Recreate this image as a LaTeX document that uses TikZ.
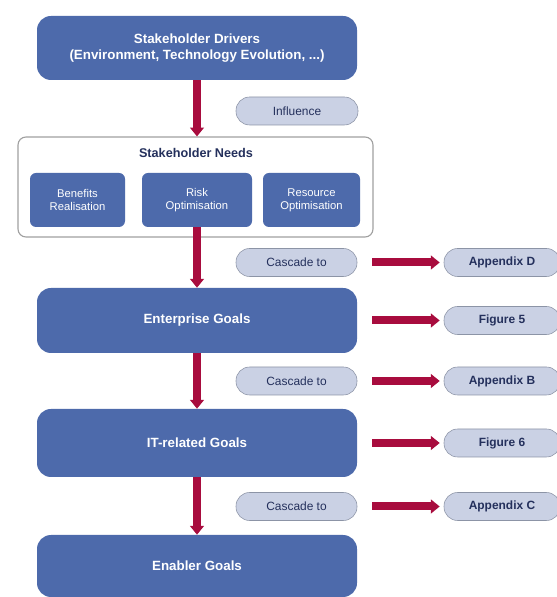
\documentclass[tikz,border=0pt]{standalone}
\usepackage{fontspec}
\setmainfont{Liberation Sans}
\usepackage{tikz}
\usetikzlibrary{arrows.meta}

\begin{document}
\begin{tikzpicture}[
  goalbox/.style={fill=goalblue,rounded corners=0.35cm,text=white,font=\fontsize{9.5}{11}\selectfont\bfseries,align=center,minimum width=8cm},
  subbox/.style={fill=goalblue,rounded corners=0.15cm,text=white,font=\fontsize{8}{9.5}\selectfont,align=center,minimum height=1.35cm},
  pill/.style={draw=pillline,fill=pillfill,rounded corners=0.34cm,text=pilltext,font=\fontsize{8.5}{10}\selectfont,minimum height=0.7cm},
  refpill/.style={pill,font=\fontsize{8.5}{10}\selectfont\bfseries,minimum width=2.9cm},
  cascade/.style={->,line width=0.2cm,draw=cascred,-{Triangle[width=0.34cm,length=0.22cm]}}
]
% Define colours
\definecolor{goalblue}{RGB}{77,106,171}
\definecolor{pillfill}{RGB}{202,209,228}
\definecolor{pillline}{RGB}{140,148,166}
\definecolor{pilltext}{RGB}{36,48,92}
\definecolor{cascred}{RGB}{168,12,62}
\definecolor{needsline}{RGB}{160,160,160}

\useasboundingbox (0,0) rectangle (13.925,14.925);

% Draw goal boxes
\node[goalbox,minimum height=1.6cm] (drivers) at (4.925,13.725) {Stakeholder Drivers\\(Environment, Technology Evolution, ...)};
\node[goalbox,minimum height=1.625cm] (enterprise) at (4.925,6.9125) {Enterprise Goals};
\node[goalbox,minimum height=1.7cm] (itgoals) at (4.925,3.85) {IT-related Goals};
\node[goalbox,minimum height=1.55cm] (enabler) at (4.925,0.775) {Enabler Goals};

% Draw stakeholder needs
\node[draw=needsline,thick,fill=white,rounded corners=0.2cm,minimum width=8.875cm,minimum height=2.5cm] (needs) at (4.8875,10.25) {};
\node[text=pilltext,font=\fontsize{9}{11}\selectfont\bfseries] (needstitle) at (4.9,11.1) {Stakeholder Needs};
\node[subbox,minimum width=2.375cm] (benefits) at (1.9375,9.925) {Benefits\\Realisation};
\node[subbox,minimum width=2.75cm] (risk) at (4.925,9.925) {Risk\\Optimisation};
\node[subbox,minimum width=2.425cm] (resource) at (7.7875,9.925) {Resource\\Optimisation};

% Draw labels
\node[pill,minimum width=3.05cm] (influence) at (7.425,12.15) {Influence};
\node[pill,minimum width=3.025cm] (cascA) at (7.4125,8.3625) {Cascade to};
\node[pill,minimum width=3.025cm] (cascB) at (7.4125,5.4) {Cascade to};
\node[pill,minimum width=3.025cm] (cascC) at (7.4125,2.2625) {Cascade to};

% Add references
\node[refpill] (appD) at (12.55,8.3625) {Appendix D};
\node[refpill] (fig5) at (12.55,6.9125) {Figure 5};
\node[refpill] (appB) at (12.55,5.4) {Appendix B};
\node[refpill] (fig6) at (12.55,3.85) {Figure 6};
\node[refpill] (appC) at (12.55,2.2625) {Appendix C};

% Draw cascade
\draw[cascade] (drivers) -- (needs.north -| drivers);
\draw[cascade] (risk) -- (enterprise);
\draw[cascade] (enterprise) -- (itgoals);
\draw[cascade] (itgoals) -- (enabler);

% Draw references
\draw[cascade,shorten <=0.375cm,shorten >=0.1cm] (cascA) -- (appD);
\draw[cascade,shorten <=0.375cm,shorten >=0.1cm] (enterprise) -- (fig5);
\draw[cascade,shorten <=0.375cm,shorten >=0.1cm] (cascB) -- (appB);
\draw[cascade,shorten <=0.375cm,shorten >=0.1cm] (itgoals) -- (fig6);
\draw[cascade,shorten <=0.375cm,shorten >=0.1cm] (cascC) -- (appC);
\end{tikzpicture}
\end{document}
